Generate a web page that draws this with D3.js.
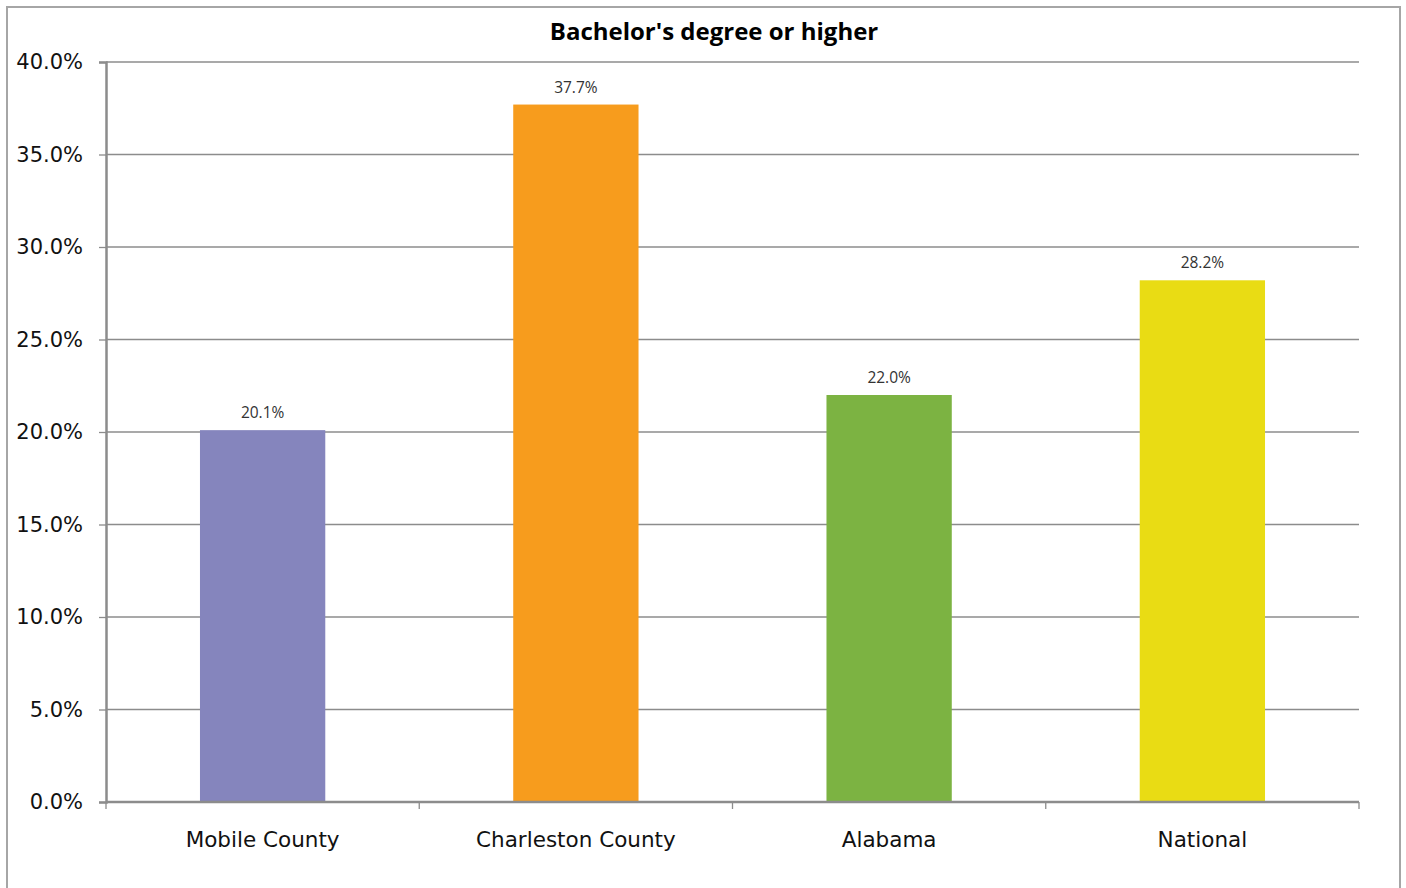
<!DOCTYPE html>
<html><head><meta charset="utf-8">
<script src="https://cdn.jsdelivr.net/npm/d3@7"></script>
<style>body{margin:0;background:#fff;}</style>
</head><body>
<svg id="c" width="1406" height="888"></svg>
<script>
const categories = ["Mobile County", "Charleston County", "Alabama", "National"];
const values = [20.1, 37.7, 22.0, 28.2];
const colors = ["#8585bd", "#f79c1d", "#7cb342", "#e9dc14"];
const yTicks = [0, 5, 10, 15, 20, 25, 30, 35, 40];
const title = "Bachelor's degree or higher";

const svg = d3.select("#c");
svg.append("rect").attr("x", 7).attr("y", 7).attr("width", 1393).attr("height", 900)
  .attr("fill", "#fff").attr("stroke", "#a6a6a6").attr("stroke-width", 2);

const m = {left: 106, top: 62, right: 1359, bottom: 802};
const x = d3.scaleBand().domain(categories).range([m.left, m.right]).paddingInner(0.6).paddingOuter(0.3);
const y = d3.scaleLinear().domain([0, 40]).range([m.bottom, m.top]);

// gridlines
svg.append("g").selectAll("line").data(yTicks.filter(d => d > 0)).join("line")
  .attr("x1", m.left).attr("x2", m.right).attr("y1", d => y(d)).attr("y2", d => y(d))
  .attr("stroke", "#8c8c8c").attr("stroke-width", 1.3);

// bars
svg.append("g").selectAll("rect").data(values).join("rect")
  .attr("x", (d, i) => x(categories[i])).attr("width", x.bandwidth())
  .attr("y", d => y(d)).attr("height", d => y(0) - y(d))
  .attr("fill", (d, i) => colors[i]);

// data labels
svg.append("g").selectAll("text").data(values).join("text")
  .attr("x", (d, i) => x(categories[i]) + x.bandwidth() / 2)
  .attr("y", d => y(d) - 12)
  .attr("text-anchor", "middle").attr("font-family", "Open Sans, sans-serif")
  .attr("font-size", 15.5).attr("fill", "#333")
  .text(d => d.toFixed(1) + "%");

// y axis
const yAxis = d3.axisLeft(y).tickValues(yTicks).tickSize(7).tickPadding(16)
  .tickFormat(d => d.toFixed(1) + "%");
const ya = svg.append("g").attr("transform", `translate(${m.left},0)`).call(yAxis);
ya.select(".domain").attr("stroke", "#8c8c8c").attr("stroke-width", 2.5);
ya.selectAll(".tick line").attr("stroke", "#8c8c8c").attr("stroke-width", 1.3);
ya.selectAll(".tick text").attr("font-family", "DejaVu Sans, sans-serif").attr("font-size", 21).attr("fill", "#111");

// x axis line and boundary ticks
const xa = svg.append("g");
xa.append("line").attr("x1", m.left).attr("x2", m.right).attr("y1", m.bottom).attr("y2", m.bottom)
  .attr("stroke", "#8c8c8c").attr("stroke-width", 2.5);
const bounds = categories.map(c => x(c) - x.step() * x.paddingInner() / 2).concat([m.right]);
xa.selectAll("line.t").data(bounds).join("line").attr("class", "t")
  .attr("x1", d => d).attr("x2", d => d).attr("y1", m.bottom).attr("y2", m.bottom + 7)
  .attr("stroke", "#8c8c8c").attr("stroke-width", 1.3);
xa.selectAll("text").data(categories).join("text")
  .attr("x", d => x(d) + x.bandwidth() / 2).attr("y", 847)
  .attr("text-anchor", "middle").attr("font-family", "DejaVu Sans, sans-serif")
  .attr("font-size", 21.5).attr("fill", "#111").text(d => d);

svg.append("text").attr("x", 714).attr("y", 40).attr("text-anchor", "middle")
  .attr("font-family", "Open Sans, sans-serif").attr("font-weight", "bold")
  .attr("font-size", 24).attr("fill", "#000").text(title);
</script>
</body></html>
